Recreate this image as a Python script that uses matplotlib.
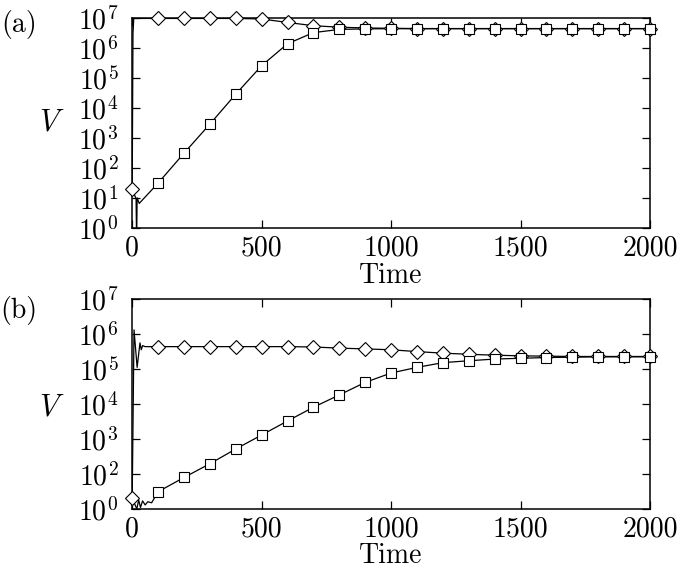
import numpy as np
import matplotlib
matplotlib.use('Agg')
import matplotlib.pyplot as plt
from matplotlib.ticker import FixedLocator, FixedFormatter, LogLocator, NullFormatter

plt.rcParams['font.family'] = 'serif'
plt.rcParams['font.serif'] = ['cmr10']
plt.rcParams['mathtext.fontset'] = 'cm'
plt.rcParams['axes.unicode_minus'] = False

# marker times (every 100 time units)
t_mark = np.arange(0, 2001, 100)

# panel (a): diamonds / squares at marker times
a_diam = [20, 9.8e6, 9.8e6, 9.8e6, 9.8e6, 9.4e6, 7.2e6, 5.6e6, 5.0e6, 4.7e6, 4.6e6,
          4.5e6, 4.5e6, 4.5e6, 4.5e6, 4.5e6, 4.5e6, 4.5e6, 4.5e6, 4.5e6, 4.5e6]
a_sq = [20, 31, 310, 2900, 2.9e4, 2.6e5, 1.4e6, 3.3e6, 4.2e6, 4.4e6, 4.45e6,
        4.45e6, 4.45e6, 4.45e6, 4.45e6, 4.45e6, 4.45e6, 4.45e6, 4.45e6, 4.45e6, 4.45e6]
# early transients (between t=0 and t=100)
a_diam_tt = [3, 6, 12]
a_diam_tv = [3e6, 9.8e6, 9.8e6]
a_sq_tt = [10, 15, 17, 19, 27]
a_sq_tv = [12, 9, 0.3, 10, 6.5]

# panel (b)
b_diam = [20, 4.3e5, 4.3e5, 4.3e5, 4.3e5, 4.3e5, 4.3e5, 4.2e5, 3.9e5, 3.7e5, 3.5e5,
          3.1e5, 2.8e5, 2.6e5, 2.45e5, 2.35e5, 2.3e5, 2.25e5, 2.25e5, 2.25e5, 2.25e5]
b_sq = [20, 31, 79, 195, 515, 1290, 3250, 8000, 1.8e4, 4.1e4, 7.6e4,
        1.1e5, 1.5e5, 1.7e5, 1.9e5, 2.0e5, 2.1e5, 2.15e5, 2.2e5, 2.2e5, 2.2e5]
b_diam_tt = [7, 19, 30, 35, 40, 50]
b_diam_tv = [1.3e6, 1.1e5, 5.5e5, 3.5e5, 4.6e5, 4.3e5]
b_sq_tt = [18, 25, 32, 40, 50, 60, 75]
b_sq_tv = [10, 18, 11, 17, 13, 16, 15]

a_yticks = [1e0, 1e1, 1e2, 1e3, 1e4, 1e5, 1e6, 1e7]
a_ylabels = [r'$10^{%d}$' % k for k in range(8)]
b_yticks = [1e1, 1e2, 1e3, 1e4, 1e5, 1e6, 1e7]
b_ylabels = [r'$10^{0}$'] + [r'$10^{%d}$' % k for k in range(2, 8)]
xticks = [0, 500, 1000, 1500, 2000]

FS = 20


def merge(tt, tv, tm, vm):
    t = np.concatenate([[tm[0]], tt, tm[1:]])
    v = np.concatenate([[vm[0]], tv, vm[1:]])
    idx = [0] + list(range(len(tt) + 1, len(t)))
    return t, v, idx


def draw_panel(ax, diam, dtt, dtv, sq, stt, stv, ylim, yticks, ylabels):
    t, v, idx = merge(dtt, dtv, t_mark, diam)
    ax.plot(t, v, 'k-', lw=0.9)
    ax.plot(t[idx], v[idx], 'D', ms=6.8, mfc='white', mec='k', mew=0.8,
            clip_on=False, zorder=3)
    t, v, idx = merge(stt, stv, t_mark, sq)
    ax.plot(t, v, 'k-', lw=0.9)
    ax.plot(t[idx[1:]], v[idx[1:]], 's', ms=7.2, mfc='white', mec='k', mew=0.8,
            clip_on=False, zorder=4)

    ax.set_yscale('log')
    ax.set_xlim(0, 2000)
    ax.set_ylim(*ylim)
    ax.xaxis.set_major_locator(FixedLocator(xticks))
    ax.set_xticklabels([str(x) for x in xticks])
    ax.yaxis.set_major_locator(FixedLocator(yticks))
    ax.yaxis.set_major_formatter(FixedFormatter(ylabels))
    ax.yaxis.set_minor_locator(LogLocator(base=10, subs=np.arange(2, 10)))
    ax.yaxis.set_minor_formatter(NullFormatter())
    ax.tick_params(which='both', direction='in', top=True, right=True,
                   labelsize=FS, width=0.9)
    ax.tick_params(which='major', length=6)
    ax.tick_params(which='minor', length=3)
    ax.tick_params(axis='y', pad=10)
    ax.tick_params(axis='x', pad=5)
    for s in ax.spines.values():
        s.set_linewidth(1.1)


fig = plt.figure(figsize=(6.85, 5.68), dpi=100)
ax1 = fig.add_axes([0.193, 0.599, 0.756, 0.369])
ax2 = fig.add_axes([0.193, 0.104, 0.756, 0.370])

draw_panel(ax1, a_diam, a_diam_tt, a_diam_tv, a_sq, a_sq_tt, a_sq_tv,
           (1e0, 1e7), a_yticks, a_ylabels)
draw_panel(ax2, b_diam, b_diam_tt, b_diam_tv, b_sq, b_sq_tt, b_sq_tv,
           (1e1, 1e7), b_yticks, b_ylabels)

fig.text(0.076, 0.783, '$V$', fontsize=FS + 2, ha='center', va='center')
fig.text(0.076, 0.282, '$V$', fontsize=FS + 2, ha='center', va='center')
fig.text(0.028, 0.956, '(a)', fontsize=FS, ha='center', va='center')
fig.text(0.028, 0.454, '(b)', fontsize=FS, ha='center', va='center')
fig.text(0.570, 0.514, 'Time', fontsize=FS, ha='center', va='center')
fig.text(0.570, 0.021, 'Time', fontsize=FS, ha='center', va='center')

plt.savefig('out.png', dpi=100)
